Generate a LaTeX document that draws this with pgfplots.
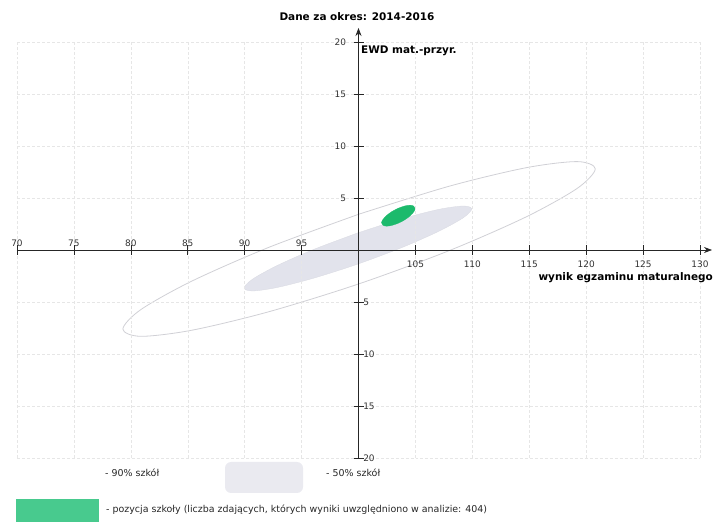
\documentclass[border=0pt]{standalone}
\usepackage{fontspec}
\setmainfont{DejaVu Sans}
\usepackage{pgfplots}
\pgfplotsset{compat=1.18}
\usetikzlibrary{arrows.meta}
\definecolor{ewdgreen}{RGB}{28,186,108}
\definecolor{lgreen}{RGB}{72,202,142}
\definecolor{fiftyfill}{RGB}{226,227,236}
\definecolor{fiftyleg}{RGB}{234,234,240}
\definecolor{ninetyline}{RGB}{208,208,213}
\definecolor{gridc}{RGB}{230,230,230}

% 90% ellipse outline
\pgfplotstableread{
x y
100.05 3.45
92.11 0.25
85.38 -2.98
80.88 -5.73
79.30 -7.60
80.88 -8.30
85.38 -7.71
92.11 -5.94
100.05 -3.25
107.99 -0.05
114.72 3.18
119.22 5.93
120.80 7.80
119.22 8.50
114.72 7.91
107.99 6.14
100.05 3.45
}\ninety

% 50% ellipse
\pgfplotstableread{
x y
99.95 1.65
96.12 0.08
92.88 -1.48
90.71 -2.79
89.95 -3.65
90.71 -3.94
92.88 -3.60
96.12 -2.69
99.95 -1.35
103.78 0.22
107.02 1.78
109.19 3.09
109.95 3.95
109.19 4.23
107.02 3.90
103.78 2.99
99.95 1.65
}\fifty

% school position
\pgfplotstableread{
x y
103.50 4.02
102.94 3.70
102.47 3.32
102.15 2.94
102.02 2.62
102.15 2.38
102.47 2.29
102.94 2.37
103.50 2.58
104.06 2.90
104.53 3.28
104.85 3.66
104.98 3.98
104.85 4.22
104.53 4.31
104.06 4.23
103.50 4.02
}\school

\begin{document}
\begin{tikzpicture}
\path[use as bounding box] (0bp,0bp) rectangle (719bp,522bp);
\begin{axis}[
  at={(17bp,64bp)}, anchor=south west,
  scale only axis, width=683bp, height=416bp,
  xmin=70, xmax=130, ymin=-20, ymax=20,
  x coord trafo/.code={\pgfmathparse{#1-100}},
  x coord inv trafo/.code={\pgfmathparse{#1+100}},
  axis lines=middle,
  axis on top,
  x axis line style={line width=0.7bp, black!85, -{Stealth[length=8bp,width=6bp]}, shorten >=-12bp},
  y axis line style={line width=0.7bp, black!85, -{Stealth[length=8bp,width=6bp]}, shorten >=-14bp},
  xtick={105,110,115,120,125,130},
  extra x ticks={70,75,80,85,90,95},
  ytick={5,10,15,20},
  extra y ticks={-5,-10,-15,-20},
  xticklabel style={anchor=north, yshift=-2.5bp},
  extra x tick style={grid=major, xticklabel style={anchor=south, yshift=7.5bp}},
  yticklabel style={anchor=east, xshift=-4bp},
  extra y tick style={grid=major, yticklabel style={anchor=west, xshift=7bp}},
  tick label style={font=\fontsize{9}{10}\selectfont, text=black!80},
  /pgf/number format/assume math mode=true,
  major tick length=10bp,
  tick align=center,
  tick style={black!85, line width=0.6bp},
  grid=major,
  grid style={densely dashed, gridc, line width=0.5bp},
  clip=false,
]
\addplot[draw=ninetyline, line width=0.8bp, smooth, mark=none] table {\ninety};
\addplot[fill=fiftyfill, draw=fiftyfill!90!gray, line width=0.3bp, smooth, mark=none] table {\fifty} -- cycle;
\addplot[fill=ewdgreen, draw=ewdgreen, line width=0.3bp, smooth, mark=none] table {\school} -- cycle;
\end{axis}
\node[font=\bfseries\fontsize{10.5}{12}\selectfont, inner sep=0pt] at (357bp,505bp) {Dane za okres: 2014-2016};
\node[font=\bfseries\fontsize{10.5}{12}\selectfont, anchor=west, inner sep=0pt] at (361bp,471bp) {EWD mat.-przyr.};
\node[font=\bfseries\fontsize{10.5}{12}\selectfont, anchor=east, inner sep=0pt] at (713bp,244bp) {wynik egzaminu maturalnego};
% legend
\fill[fiftyleg, rounded corners=6bp] (225bp,29bp) rectangle (303bp,60bp);
\node[font=\fontsize{9.5}{11}\selectfont, anchor=west, inner sep=0pt, text=black!85] at (105bp,49bp) {- 90\% szkół};
\node[font=\fontsize{9.5}{11}\selectfont, anchor=west, inner sep=0pt, text=black!85] at (326bp,49bp) {- 50\% szkół};
\fill[lgreen] (16bp,0bp) rectangle (98.5bp,23bp);
\node[font=\fontsize{9.5}{11}\selectfont, anchor=west, inner sep=0pt, text=black!85] at (106bp,12bp) {- pozycja szkoły (liczba zdających, których wyniki uwzględniono w analizie: 404)};
\end{tikzpicture}
\end{document}
